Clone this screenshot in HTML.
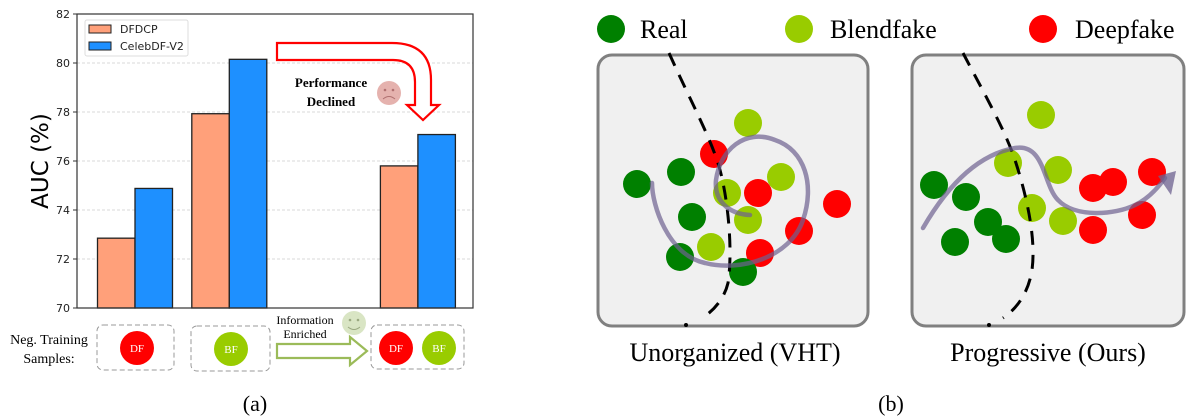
<!DOCTYPE html>
<html><head><meta charset="utf-8"><style>
body{margin:0;background:#fff;width:1188px;height:417px;overflow:hidden}
svg{display:block}
.s{font-family:"Liberation Serif",serif}
.d{font-family:"DejaVu Sans",sans-serif}
</style></head><body>
<svg id="fig" width="1188" height="417" viewBox="0 0 1188 417" xmlns="http://www.w3.org/2000/svg">
<g id="chart"></g>
<!-- red arrow -->
<path d="M277,43 L392,43 Q431,43 431,80 L431,105 L439,105 L423,120 L407,105 L415,105 L415,82 Q415,60 393,60 L277,60 Z" fill="#fff" stroke="#f00" stroke-width="2.2"/>
<text class="s" x="331" y="87" font-size="13" font-weight="bold" text-anchor="middle">Performance</text>
<text class="s" x="331" y="106" font-size="13" font-weight="bold" text-anchor="middle">Declined</text>
<g><circle cx="389" cy="93" r="12" fill="#e5b2ae"/><circle cx="385" cy="90" r="1.3" fill="#b07070"/><circle cx="393" cy="90" r="1.3" fill="#b07070"/><path d="M383,99 Q389,94 395,99" fill="none" stroke="#b07070" stroke-width="1"/></g>
<!-- bottom -->
<text class="s" x="49" y="344" font-size="14" text-anchor="middle">Neg. Training</text>
<text class="s" x="49" y="363" font-size="14" text-anchor="middle">Samples:</text>
<rect x="97" y="325" width="77" height="45" rx="6" fill="none" stroke="#999" stroke-dasharray="5,3"/>
<rect x="191" y="326" width="79" height="45" rx="6" fill="none" stroke="#999" stroke-dasharray="5,3"/>
<rect x="371" y="325" width="93" height="44" rx="6" fill="none" stroke="#999" stroke-dasharray="5,3"/>
<g><circle cx="137" cy="348" r="17" fill="#f00"/><text class="s" x="137" y="352" font-size="11" fill="#fff" text-anchor="middle">DF</text></g>
<g><circle cx="231" cy="349" r="17" fill="#99cc00"/><text class="s" x="231" y="353" font-size="11" fill="#fff" text-anchor="middle">BF</text></g>
<g><circle cx="396" cy="348" r="17" fill="#f00"/><text class="s" x="396" y="352" font-size="11" fill="#fff" text-anchor="middle">DF</text></g>
<g><circle cx="439" cy="348" r="17" fill="#99cc00"/><text class="s" x="439" y="352" font-size="11" fill="#fff" text-anchor="middle">BF</text></g>
<path d="M277,344 L350,344 L350,337 L367,351 L350,365 L350,358 L277,358 Z" fill="#fff" stroke="#9bbb59" stroke-width="2.2"/>
<text class="s" x="305" y="324" font-size="12" text-anchor="middle">Information</text>
<text class="s" x="305" y="338" font-size="12" text-anchor="middle">Enriched</text>
<g><circle cx="354" cy="323" r="12" fill="#d9e5c4"/><circle cx="350" cy="320" r="1.3" fill="#9aa880"/><circle cx="358" cy="320" r="1.3" fill="#9aa880"/><path d="M348,327 Q354,332 360,327" fill="none" stroke="#9aa880" stroke-width="1"/></g>
<text class="s" x="255" y="411" font-size="22" text-anchor="middle">(a)</text>

<!-- panel b -->
<g>
<circle cx="611" cy="29" r="14" fill="#008000"/><text class="s" x="640" y="38" font-size="26">Real</text>
<circle cx="799" cy="29" r="14" fill="#99cc00"/><text class="s" x="830" y="38" font-size="26">Blendfake</text>
<circle cx="1043" cy="29" r="14" fill="#f00"/><text class="s" x="1075" y="38" font-size="26">Deepfake</text>
</g>
<rect x="598" y="55" width="270" height="271" rx="14" fill="#f0f0f0" stroke="#808080" stroke-width="3"/>
<rect x="912" y="55" width="272" height="271" rx="14" fill="#f0f0f0" stroke="#808080" stroke-width="3"/>
<g id="pts"></g>
<path d="M669,53 C690,100 712,140 720,170 C728,200 733,250 728,283 C724,300 712,312 702,318" fill="none" stroke="#000" stroke-width="3" stroke-dasharray="14,10"/>
<circle cx="686" cy="325" r="2" fill="#000"/>
<path d="M963,53 C985,95 1005,130 1015,160 C1028,200 1036,240 1032,270 C1028,295 1015,310 1003,318" fill="none" stroke="#000" stroke-width="3" stroke-dasharray="14,10"/>
<circle cx="989" cy="325" r="2" fill="#000"/>
<path d="M652,183 C652,205 668,255 705,263 C740,272 790,258 803,220 C815,185 805,150 775,140 C745,128 720,150 716,180 C714,200 728,214 750,215" fill="none" stroke="#6e6190" stroke-opacity="0.7" stroke-width="4.5" stroke-linecap="round"/>
<path d="M923,228 C945,190 975,155 1015,148 C1045,143 1043,185 1058,200 C1075,218 1115,215 1135,205 C1150,198 1160,185 1165,178" fill="none" stroke="#6e6190" stroke-opacity="0.7" stroke-width="4.5" stroke-linecap="round"/>
<path d="M1176,171 L1158,176 L1171,195 Z" fill="#6e6190" fill-opacity="0.75"/>
<text class="s" x="735" y="361" font-size="26" text-anchor="middle">Unorganized (VHT)</text>
<text class="s" x="1048" y="361" font-size="26" text-anchor="middle">Progressive (Ours)</text>
<text class="s" x="891" y="411" font-size="22" text-anchor="middle">(b)</text>
</svg>
<script>
const categories = ["DF", "BF", "", "DF+BF"];
const dfdcpValues = [72.85, 77.93, null, 75.8];
const celebValues = [74.88, 80.15, null, 77.08];
const yTicks = [70, 72, 74, 76, 78, 80, 82];
const seriesNames = ["DFDCP", "CelebDF-V2"];

const NS = "http://www.w3.org/2000/svg";
const L = 77, R = 473, T = 14, B = 308;
const yMin = 70, yMax = 82;
const y = v => B - (v - yMin) / (yMax - yMin) * (B - T);
const band = 94.3;
const xc = i => L + 58 + band * i;
const bw = 37.5;
const g = document.getElementById('chart');
function mk(tag, attrs, parent) {
  const e = document.createElementNS(NS, tag);
  for (const k in attrs) e.setAttribute(k, attrs[k]);
  (parent || g).appendChild(e);
  return e;
}
yTicks.forEach(t => {
  if (t > yMin && t < yMax) {
    const gl = mk('line', {x1: L, x2: R, y1: y(t), y2: y(t), stroke: '#ccc', 'stroke-dasharray': '3,2', 'stroke-width': 0.8});
    
    
  }
  const tk = mk('line', {x1: L - 4, x2: L, y1: y(t), y2: y(t), stroke: '#333'});
  
  
  const tl = mk('text', {x: L - 7, y: y(t) + 4, 'font-size': 11, 'text-anchor': 'end', class: 'd', fill: '#222'});
  tl.textContent = t;
  
  
});
const colors = ['#FFA07A', '#1E90FF'];
[dfdcpValues, celebValues].forEach((vals, s) => {
  vals.forEach((v, i) => {
    if (v == null) return;
    const x = xc(i) - bw + s * bw;
    const b = mk('rect', {x: x, y: y(v), width: bw, height: B - y(v), fill: colors[s], stroke: '#222', 'stroke-width': 1.3});
    
    
  });
});
const frame = mk('rect', {x: L, y: T, width: R - L, height: B - T, fill: 'none', stroke: '#333', 'stroke-width': 1.2});


const yt = mk('text', {x: 0, y: 0, 'font-size': 23, 'text-anchor': 'middle', class: 'd', transform: 'translate(48,161) rotate(-90)'});
yt.textContent = 'AUC (%)';


const lg = mk('rect', {x: 85, y: 20, width: 103, height: 36, rx: 2, fill: '#fff', stroke: '#ddd'});


seriesNames.forEach((n, s) => {
  const p = mk('rect', {x: 89, y: 25 + s * 17, width: 22, height: 8, fill: colors[s], stroke: '#222'});
  
  
  const t = mk('text', {x: 120, y: 33 + s * 17, 'font-size': 11, class: 'd', fill: '#222'});
  t.textContent = n;
  
  
});

// panel b points
const ptColors = {g: '#008000', l: '#99cc00', r: '#ff0000'};
const ptsLeft = [[748,123,'l'],[714,154,'r'],[681,172,'g'],[637,184,'g'],[781,177,'l'],[727,193,'l'],[758,193,'r'],[692,217,'g'],[748,220,'l'],[837,204,'r'],[799,231,'r'],[711,247,'l'],[680,257,'g'],[760,253,'r'],[743,272,'g']];
const ptsRight = [[1041,115,'l'],[1008,163,'l'],[1058,170,'l'],[934,185,'g'],[966,197,'g'],[1093,188,'r'],[1113,182,'r'],[1152,172,'r'],[1032,208,'l'],[988,222,'g'],[1063,221,'l'],[1142,215,'r'],[955,242,'g'],[1006,239,'g'],[1093,230,'r']];
const pg = document.getElementById('pts');
ptsLeft.concat(ptsRight).forEach(p => {
  const c = mk('circle', {cx: p[0], cy: p[1], r: 14, fill: ptColors[p[2]]}, pg);
  
  
});
</script>
</body></html>
